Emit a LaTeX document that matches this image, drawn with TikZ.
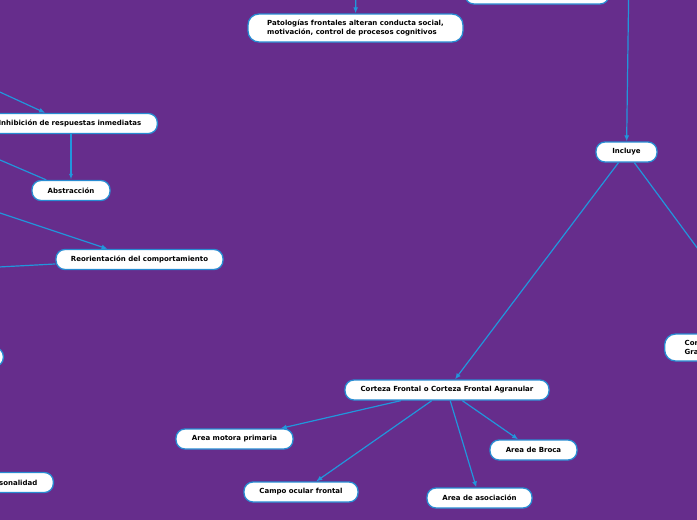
\documentclass[tikz,border=0pt]{standalone}
\usepackage{fontspec}
\setmainfont{DejaVu Sans}
\usetikzlibrary{arrows.meta}
\definecolor{bg}{RGB}{102,45,140}
\definecolor{lnc}{RGB}{33,150,220}
\definecolor{bd}{RGB}{40,140,210}
\begin{document}
\begin{tikzpicture}[x=1pt,y=-1pt,
 box/.style={draw=bd, line width=1.3pt, fill=white, rounded corners=9pt, font=\fontsize{7}{9}\selectfont\bfseries, text=black, minimum height=20pt, inner ysep=2pt, inner xsep=0pt},
 arr/.style={draw=lnc, line width=1.2pt, -{Latex[length=6pt,width=5pt]}},
 lnk/.style={draw=lnc, line width=1.2pt}]
\useasboundingbox (0,0) rectangle (697,520);
\fill[bg] (0,0) rectangle (697,520);
\clip (0,0) rectangle (697,520);

\node[box, minimum width=144pt] (top) at (537,-6) {};
\node[box, align=left, minimum width=215pt, minimum height=28pt, rounded corners=11pt] (pat) at (355.5,28) {Patologías frontales alteran conducta social,\\motivación, control de procesos cognitivos};
\node[box, minimum width=61pt] (inc) at (626.5,152) {Incluye};
\node[box, minimum width=204pt] (cfa) at (447,390) {Corteza Frontal o Corteza Frontal Agranular};
\node[box, minimum width=117pt] (amp) at (234.5,439) {Area motora primaria};
\node[box, minimum width=114pt] (cof) at (301,492) {Campo ocular frontal};
\node[box, minimum width=105pt] (aas) at (479.5,498) {Area de asociación};
\node[box, minimum width=87pt] (abr) at (533.5,450) {Area de Broca};
\node[box, anchor=west, text width=172pt, align=left, inner xsep=20pt, minimum height=27pt, rounded corners=11pt] (cpg) at (664,347.5) {Cor\\Gra};

\node[box, anchor=east, text width=146pt, align=right, inner xsep=16pt] (inh) at (158,123.5) {Inhibición de respuestas inmediatas};
\node[box, minimum width=78pt] (abs) at (71,190.5) {Abstracción};
\node[box, minimum width=167pt] (reo) at (139.5,259.5) {Reorientación del comportamiento};
\node[box, anchor=east, minimum width=80pt, minimum height=19pt] (lft) at (4,357) {};
\node[box, anchor=east, text width=100pt, align=right, inner xsep=16pt] (per) at (54,482.5) {sonalidad};

\coordinate (s1) at (629,-30);
\coordinate (s2) at (356,-30);
\coordinate (l1) at (-20,82.9);
\coordinate (l2) at (-20,151.4);
\coordinate (l3) at (-20,206.3);
\coordinate (l4) at (-20,268);

\draw[arr] (s1) -- (inc);
\draw[arr] (s2) -- (pat);
\draw[arr] (inc) -- (cfa);
\draw[arr] (inc) -- (cpg);
\draw[arr] (cfa) -- (amp);
\draw[arr] (cfa) -- (cof);
\draw[arr] (cfa) -- (aas);
\draw[arr] (cfa) -- (abr);
\draw[arr] (l1) -- (inh);
\draw[arr, line width=1.6pt, -{Latex[length=6pt,width=4pt]}] (abs.north |- inh.south) -- (abs.north);
\draw[lnk] (l2) -- (abs);
\draw[arr] (l3) -- (reo);
\draw[lnk] (reo) -- (l4);
\end{tikzpicture}
\end{document}
